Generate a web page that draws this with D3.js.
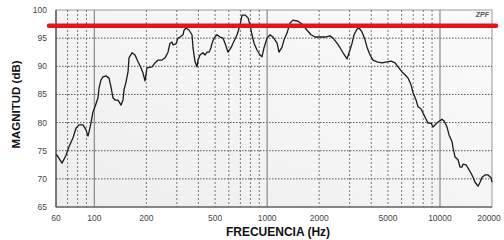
<!DOCTYPE html>
<html><head><meta charset="utf-8">
<script src="https://cdn.jsdelivr.net/npm/d3@7"></script>
<style>
html,body{margin:0;padding:0;background:#fff;}
svg{display:block;font-family:"Liberation Sans",Arial,sans-serif;}
</style></head>
<body><svg id="c" width="504" height="240"></svg>
<script>
const freqTicks = [60,100,200,500,1000,2000,5000,10000,20000];
const minorFreqs = [70,80,90,200,300,400,500,600,700,800,900,2000,3000,4000,5000,6000,7000,8000,9000];
const decadeFreqs = [100,1000,10000];
const dbTicks = [65,70,75,80,85,90,95,100];
const refLevel = 97.2;
const freq = [60,60.8,65,68.6,71.3,75.3,78.3,81.5,86,89.5,91.9,93.1,95.6,98.2,100.9,105,106.4,109.3,112.2,116.8,121.6,124.9,128.2,131.7,137.1,142.7,146.5,148.5,152.5,156.6,158.7,165.2,172,179,186.3,191.3,196.4,201.7,215.6,224.4,233.6,246.3,256.4,266.8,274,281.5,285.2,296.8,304.9,313.2,326,330.3,339.2,353.1,367.4,372.3,382.4,392.8,398,408.8,425.4,437,448.7,460.9,473.3,479.7,492.7,512.7,533.7,555.4,570.4,593.7,617.8,634.6,669.4,696.6,715.5,744.7,774.9,795.9,817.4,839.5,873.8,909.5,934,959.3,998.2,1039,1081,1141,1171,1219,1252,1303,1356,1412,1509,1592,1701,1794,1892,2022,2162,2311,2405,2537,2641,2749,2899,2977,3099,3182,3312,3401,3539,3684,3784,3938,4099,4323,4621,4940,5210,5495,5720,6032,6278,6534,6800,6985,7270,7466,7771,7980,8306,8531,8879,9118,9490,9744,10279,10556,10986,11283,11743,11903,12222,12720,13068,13416,13596,14148,14538,15132,15540,15954,16602,17052,17514,18228,18974,19746,20000];
const mag = [74.3,74.2,72.8,74.2,75.7,77.3,79.0,79.6,79.6,78.7,77.6,78.3,79.9,81.9,82.8,84.4,86.1,87.6,88.1,88.3,87.9,86.3,84.4,84.0,84.0,83.1,84.0,85.8,87.2,89.0,91.5,92.4,92.0,90.8,89.7,88.8,87.4,89.7,89.9,90.6,91.1,91.1,91.5,92.5,94.1,94.3,93.8,94.0,95.0,95.2,95.6,96.4,96.8,96.4,95.6,93.3,90.8,89.9,91.1,92.0,92.4,92.0,92.5,92.5,93.3,94.1,95.0,95.6,95.2,95.0,94.1,92.5,93.3,94.1,95.6,97.3,99.1,99.1,98.6,97.3,95.6,94.1,92.9,92.0,91.7,93.3,95.0,95.6,95.2,94.1,92.5,93.4,94.7,95.9,97.7,98.2,98.0,97.5,96.4,95.6,95.2,95.2,95.2,95.4,95.0,94.1,93.3,92.4,91.3,92.4,94.1,95.6,96.6,96.8,96.1,94.7,93.4,92.0,91.1,90.8,90.6,90.8,90.9,90.6,89.9,89.0,88.5,87.9,86.7,85.3,84.0,82.8,82.4,81.7,80.6,79.9,79.9,79.2,79.8,80.1,80.6,80.3,79.2,77.8,76.6,75.5,73.9,73.4,72.1,72.1,72.6,72.5,71.9,71.0,70.3,69.4,68.7,69.4,70.3,70.7,70.7,70.2,69.4];

const svg = d3.select("#c");
const x = d3.scaleLog().domain([60,20000]).range([56,492]);
const y = d3.scaleLinear().domain([65,100]).range([207,10]);

const grad = svg.append("defs").append("linearGradient").attr("id","bg")
  .attr("x1","100%").attr("y1","0%").attr("x2","0%").attr("y2","100%");
grad.append("stop").attr("offset","0%").attr("stop-color","#fbfbfb");
grad.append("stop").attr("offset","100%").attr("stop-color","#eeeeee");

svg.append("rect").attr("x",x(60)).attr("y",y(100))
  .attr("width",x(20000)-x(60)).attr("height",y(65)-y(100))
  .attr("fill","url(#bg)").attr("stroke","#999").attr("stroke-width",1);

// horizontal grid
svg.append("g").selectAll("line").data(dbTicks.filter(d=>d>65&&d<100)).join("line")
  .attr("x1",x(60)).attr("x2",x(20000))
  .attr("y1",d=>y(d)).attr("y2",d=>y(d))
  .attr("stroke","#555").attr("stroke-width",1).attr("stroke-dasharray","1.5,1.5");
// vertical minor grid
svg.append("g").selectAll("line").data(minorFreqs).join("line")
  .attr("x1",d=>x(d)).attr("x2",d=>x(d))
  .attr("y1",y(100)).attr("y2",y(65))
  .attr("stroke","#777").attr("stroke-width",1).attr("stroke-dasharray","2,2");
// decade lines
svg.append("g").selectAll("line").data(decadeFreqs).join("line")
  .attr("x1",d=>x(d)).attr("x2",d=>x(d))
  .attr("y1",y(100)).attr("y2",y(65))
  .attr("stroke","#888").attr("stroke-width",1.2);

// left and bottom axis lines
svg.append("line").attr("x1",x(60)).attr("x2",x(60)).attr("y1",y(100)).attr("y2",y(65))
  .attr("stroke","#444").attr("stroke-width",1.2);
svg.append("line").attr("x1",x(60)).attr("x2",x(20000)).attr("y1",y(65)).attr("y2",y(65))
  .attr("stroke","#444").attr("stroke-width",1.2);

// y tick labels
svg.append("g").selectAll("text").data(dbTicks).join("text")
  .attr("x",x(60)-9).attr("y",d=>y(d)).attr("dy","0.35em")
  .attr("text-anchor","end").attr("font-size",8.5).attr("fill","#444").text(d=>d);
// x tick labels
svg.append("g").selectAll("text").data(freqTicks).join("text")
  .attr("x",d=>d===20000?x(d)-3:x(d)).attr("y",y(65)+14)
  .attr("text-anchor","middle").attr("font-size",8.5).attr("fill","#444").text(d=>d);

// axis titles
svg.append("text").attr("x",(x(60)+x(20000))/2+4).attr("y",236)
  .attr("text-anchor","middle").attr("font-size",12).attr("font-weight","bold")
  .attr("fill","#111").text("FRECUENCIA (Hz)");
svg.append("text").attr("transform",`translate(20,${(y(65)+y(100))/2-4}) rotate(-90)`)
  .attr("text-anchor","middle").attr("font-size",11.5).attr("font-weight","bold")
  .attr("fill","#111").text("MAGNITUD (dB)");

// logo
svg.append("text").attr("x",x(20000)-3).attr("y",y(100)+7).attr("text-anchor","end")
  .attr("font-size",7).attr("font-style","italic").attr("font-weight","bold")
  .attr("fill","#555").text("ZPF");

// response curve
const pts = freq.map((f,i)=>[f,mag[i]]);
svg.append("path").datum(pts)
  .attr("d",d3.line().x(d=>x(d[0])).y(d=>y(d[1])))
  .attr("fill","none").attr("stroke","#1a1a1a").attr("stroke-width",1.3)
  .attr("stroke-linejoin","round");

// reference red line
svg.append("line").attr("x1",x(60)-7).attr("x2",x(20000)+4)
  .attr("y1",y(refLevel)).attr("y2",y(refLevel))
  .attr("stroke","#e5141b").attr("stroke-width",4.5).attr("stroke-linecap","round");
</script></body></html>
